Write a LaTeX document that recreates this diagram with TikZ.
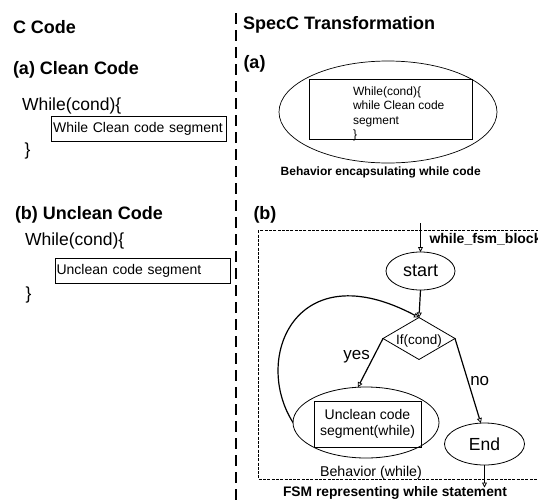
\documentclass[tikz,border=0pt]{standalone}
\usepackage{fontspec}
\setmainfont{Liberation Sans}
\usetikzlibrary{arrows.meta,shapes.geometric}
\begin{document}
\begin{tikzpicture}[x=1pt,y=-1pt,
  every node/.style={inner sep=0pt, outer sep=0pt},
  heading/.style={font=\fontsize{18}{21}\selectfont\bfseries, anchor=base west},
  codeline/.style={font=\fontsize{17.5}{20}\selectfont, anchor=base west},
  segbox/.style={draw, line width=0.9pt, font=\fontsize{14}{16}\selectfont,
    anchor=north west, text width=#1, align=left, inner xsep=1.5pt,
    minimum height=25pt},
  caption/.style={font=\fontsize{12}{14}\selectfont\bfseries, anchor=base},
  state/.style={draw, ellipse, line width=0.8pt, font=\fontsize{18}{20}\selectfont},
  arr/.style={line width=1.2pt, -{Triangle[open, length=5pt, width=5pt, line width=0.8pt]}},
  branch/.style={font=\fontsize{17}{20}\selectfont, anchor=base}
]
\useasboundingbox (0,0) rectangle (538,501);

% column separator
\draw[line width=1.1pt, dash pattern=on 11pt off 6pt] (236,13) -- (236,501);

% ---------- C code column ----------
\node[heading] (ccode) at (13,33.7) {C Code};
\node[heading] (cleanhd) at (13,74) {(a) Clean Code};
\node[codeline] (whilea) at (22,110.7) {While(cond)\{};
\node[segbox=171.5pt] (cleanseg) at (51.7,116.7) {While Clean code segment};
\node[codeline] (closea) at (24.5,155.8) {\}};

\node[heading] (uncleanhd) at (15,219.3) {(b) Unclean Code};
\node[codeline] (whileb) at (25,245) {While(cond)\{};
\node[segbox=172pt, minimum height=25pt] (uncleanseg) at (55,258.3) {Unclean code segment};
\node[codeline] (closeb) at (25.5,299.5) {\}};

% ---------- SpecC column ----------
\node[heading] (spechd) at (243,29.3) {SpecC Transformation};
\node[heading] (parta) at (243.5,68.5) {(a)};

\node[draw, ellipse, line width=0.7pt, minimum width=218pt, minimum height=102pt] (behclean) at (388,112) {};
\node[draw, line width=0.9pt, minimum width=163pt, minimum height=60pt] (cleanbody) at (390.5,109) {};
\node[font=\fontsize{12}{14.5}\selectfont, align=left, anchor=north west] (cleantext) at (353,86.7)
  {While(cond)\{\\while Clean code\\segment\\\}};
\node[caption] (behcap) at (380.7,175.7) {Behavior encapsulating while code};

\node[heading] (partb) at (253.5,219.3) {(b)};
\draw[line width=1.5pt, dash pattern=on 3pt off 1.3pt] (258.3,230.3) rectangle (545,479.3);
\node[font=\fontsize{14}{16}\selectfont\bfseries, anchor=base west] (fsmname) at (429.5,243.5) {while\_fsm\_block};

\coordinate (fsmin) at (420.5,223);
\node[state, minimum width=69pt, minimum height=38pt] (start) at (420.5,271) {start};
\node[draw, diamond, aspect=1.7, line width=0.8pt, minimum width=72pt, minimum height=42pt,
  font=\fontsize{13.5}{15}\selectfont, text height=12pt, text depth=1pt] (cond) at (419,338.5) {If(cond)};
\node[draw, ellipse, line width=0.8pt, minimum width=146pt, minimum height=71pt] (beh) at (366,422.5) {};
\node[draw, line width=0.9pt, minimum width=107pt, minimum height=46pt, align=center,
  font=\fontsize{14}{16.5}\selectfont] (behbody) at (367.5,424) {Unclean code\\segment(while)};
\node[state, minimum width=80pt, minimum height=42pt, font=\fontsize{17.5}{20}\selectfont] (end) at (484.5,444) {End};
\coordinate (fsmout) at (484.5,487.5);

\node[font=\fontsize{14.2}{16}\selectfont, anchor=base] (behname) at (371,476.7) {Behavior (while)};
\node[font=\fontsize{13.8}{16}\selectfont\bfseries, anchor=base] (fsmcap) at (395,496.7) {FSM representing while statement};

% transitions
\draw[arr] (fsmin) -- (start.north);
\draw[arr] (start.south) -- (cond.north);
\draw[arr] (beh.west) .. controls (252,358) and (296,252) .. (cond.north);
\draw[arr] (cond.west) -- (beh.103);
\draw[arr] (cond.east) -- (end.100);
\draw[arr] (end.south) -- (fsmout);

\node[branch] (yes) at (356.7,359.5) {yes};
\node[branch] (no) at (479.7,385.5) {no};
\end{tikzpicture}
\end{document}
